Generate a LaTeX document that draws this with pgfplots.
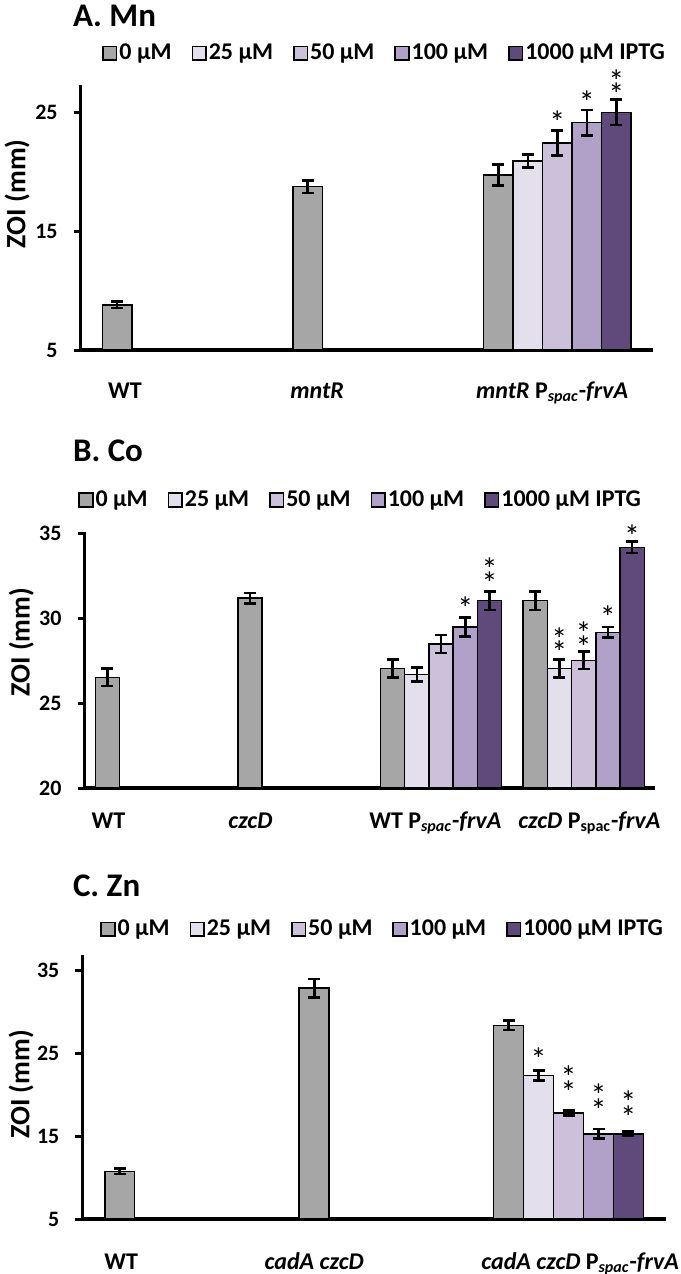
\documentclass[border=0pt]{standalone}
\usepackage{pgfplots}
\pgfplotsset{compat=1.18}
\usepackage{fontspec}
\setmainfont{Carlito}
\definecolor{c0}{HTML}{A6A6A6}
\definecolor{c25}{HTML}{E4DFEC}
\definecolor{c50}{HTML}{CCC0DA}
\definecolor{c100}{HTML}{B1A0C7}
\definecolor{c1000}{HTML}{604A7B}

\pgfplotsset{
  zoi/.style={
    scale only axis,
    axis lines=left,
    axis line style={-, line width=1.8pt},
    ybar, bar shift=0pt,
    clip=false,
    tick align=outside,
    major tick length=3.5pt,
    ytick style={line width=1.5pt, black},
    xtick style={draw=none},
    ylabel={ZOI (mm)},
    ylabel style={font=\bfseries\fontsize{14}{16}\selectfont, anchor=center},
    yticklabel style={font=\bfseries\fontsize{11}{13}\selectfont, xshift=-4.5pt,
      /pgf/number format/assume math mode=true},
    xticklabel style={font=\bfseries\fontsize{12}{14}\selectfont, anchor=base},
    legend columns=5,
    legend style={draw=none, fill=none, inner sep=0pt, anchor=south west,
      nodes={inner xsep=1pt},
      font=\bfseries\fontsize{12}{14}\selectfont,
      /tikz/every even column/.append style={column sep=9pt}},
    every axis plot post/.append style={
      draw=black, line width=0.75pt,
      legend image code/.code={\draw[##1, draw=black, line width=0.8pt] (0pt,-3.4pt) rectangle (6.8pt,3.4pt);},
      /pgfplots/error bars/y dir=both,
      /pgfplots/error bars/y explicit,
      /pgfplots/error bars/error bar style={line width=1.3pt, black},
      /pgfplots/error bars/error mark options={rotate=90, mark size=3pt, line width=1.3pt, black}},
  },
}
% asterisk centred on a value
\newcommand{\st}[2]{\node[font=\fontsize{16}{16}\selectfont, anchor=base, yshift=-8.5pt, inner sep=0pt] at (axis cs:#1,#2) {*};}
\tikzset{ttl/.style={anchor=base west, inner sep=0pt, font=\bfseries\fontsize{16.5}{18}\selectfont}}

\begin{document}
\begin{tikzpicture}
\path[use as bounding box] (0,0) rectangle (340pt,-637pt);

% ---------- A. Mn ----------
\node[ttl] at (36.3pt,-13pt) {A. Mn};
\begin{axis}[zoi,
  at={(40.35pt,-175pt)}, anchor=south west,
  width=286pt, height=132.5pt,
  xmin=-0.5, xmax=2.5, ymin=5, ymax=27.3,
  ytick={5,15,25}, bar width=0.1545,
  xtick={-0.268,0.74,1.973},
  xticklabels={WT, \textit{mntR}, \textit{mntR} P\textsubscript{\textit{spac}}-\textit{frvA}},
  xticklabel style={yshift=-20.5pt},
  ylabel style={at={(axis description cs:-0.111,0.59)}},
  legend style={at={(axis description cs:0.037,1.068)}},
]
\addplot[fill=c0] coordinates {(-0.309,8.8) +- (0,0.28) (0.691,18.74) +- (0,0.52) (1.691,19.73) +- (0,0.88)};
\addplot[fill=c25] coordinates {(1.8455,20.9) +- (0,0.53)};
\addplot[fill=c50] coordinates {(2,22.4) +- (0,1.05)};
\addplot[fill=c100] coordinates {(2.1545,24.13) +- (0,1.08)};
\addplot[fill=c1000] coordinates {(2.309,25.0) +- (0,1.08)};
\legend{0 µM, 25 µM, 50 µM, 100 µM, 1000 µM IPTG}
\st{2}{24.64}
\st{2.1545}{26.32}
\st{2.309}{27.02}
\st{2.309}{28.14}
\end{axis}

% ---------- B. Co ----------
\node[ttl] at (36.3pt,-230.8pt) {B. Co};
\begin{axis}[zoi,
  at={(42.3pt,-394pt)}, anchor=south west,
  width=285.2pt, height=128pt,
  xmin=-0.5, xmax=3.5, ymin=20, ymax=35.1,
  ytick={20,25,30,35}, bar width=0.17,
  xtick={-0.332,0.663,1.96,3.04},
  xticklabels={WT, \textit{czcD}, WT P\textsubscript{\textit{spac}}-\textit{frvA}, \textit{czcD} P\textsubscript{spac}-\textit{frvA}},
  xticklabel style={yshift=-16.5pt},
  ylabel style={at={(axis description cs:-0.111,0.57)}},
  legend style={at={(axis description cs:-0.0116,1.071)}},
]
\addplot[fill=c0] coordinates {(-0.34,26.53) +- (0,0.51) (0.66,31.2) +- (0,0.3) (1.66,27.04) +- (0,0.53) (2.66,31.05) +- (0,0.55)};
\addplot[fill=c25] coordinates {(1.83,26.7) +- (0,0.4) (2.83,27.04) +- (0,0.53)};
\addplot[fill=c50] coordinates {(2,28.5) +- (0,0.53) (3,27.53) +- (0,0.51)};
\addplot[fill=c100] coordinates {(2.17,29.5) +- (0,0.55) (3.17,29.18) +- (0,0.32)};
\addplot[fill=c1000] coordinates {(2.34,31.05) +- (0,0.55) (3.34,34.2) +- (0,0.33)};
\legend{0 µM, 25 µM, 50 µM, 100 µM, 1000 µM IPTG}
\st{2.17}{30.97}
\st{2.34}{32.44}
\st{2.34}{33.23}
\st{2.83}{28.32}
\st{2.83}{29.14}
\st{3}{28.67}
\st{3}{29.49}
\st{3.17}{30.44}
\st{3.34}{35.2}
\end{axis}

% ---------- C. Zn ----------
\node[ttl] at (36.3pt,-448pt) {C. Zn};
\begin{axis}[zoi,
  at={(41.2pt,-609.5pt)}, anchor=south west,
  width=291.7pt, height=132pt,
  xmin=-0.5, xmax=2.5, ymin=5, ymax=36.9,
  ytick={5,15,25,35}, bar width=0.154,
  xtick={-0.3,0.692,2.06},
  xticklabels={WT, \textit{cadA czcD}, \textit{cadA czcD} P\textsubscript{\textit{spac}}-\textit{frvA}},
  xticklabel style={yshift=-21.5pt},
  ylabel style={at={(axis description cs:-0.105,0.51)}},
  legend style={at={(axis description cs:0.030,1.046)}},
]
\addplot[fill=c0] coordinates {(-0.308,10.76) +- (0,0.32) (0.692,32.9) +- (0,1.1) (1.692,28.4) +- (0,0.58)};
\addplot[fill=c25] coordinates {(1.846,22.36) +- (0,0.62)};
\addplot[fill=c50] coordinates {(2,17.8) +- (0,0.28)};
\addplot[fill=c100] coordinates {(2.154,15.3) +- (0,0.58)};
\addplot[fill=c1000] coordinates {(2.308,15.3) +- (0,0.24)};
\legend{0 µM, 25 µM, 50 µM, 100 µM, 1000 µM IPTG}
\st{1.846}{25.06}
\st{2}{21.03}
\st{2}{22.84}
\st{2.154}{18.81}
\st{2.154}{20.63}
\st{2.308}{18.01}
\st{2.308}{19.82}
\end{axis}
\end{tikzpicture}
\end{document}
